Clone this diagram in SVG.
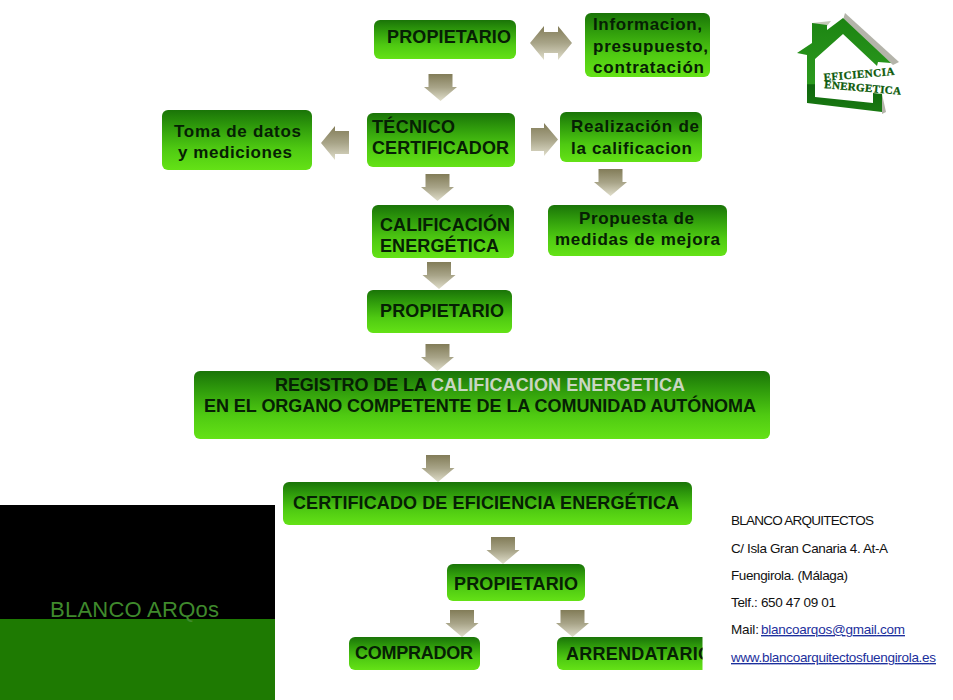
<svg xmlns="http://www.w3.org/2000/svg" width="953" height="700" viewBox="0 0 953 700">
<style>
.box{fill:url(#g)}
.arrow{fill:url(#a)}
text{font-family:"Liberation Sans",Arial,sans-serif}
.t{font-weight:bold;fill:#062004;font-size:18px}
.m{font-size:17px}
.c{font-size:13.500px;fill:#111}
.l{fill:#1c2f9c;text-decoration:underline}
.s{font-family:"Liberation Serif",serif;font-weight:bold;font-size:11px;fill:#0b5a0a;stroke:#0b5a0a;stroke-width:.3px}
</style>
<defs>
<linearGradient id="g" x1="0" y1="0" x2="0" y2="1"><stop offset="0" stop-color="#1a7408"/><stop offset=".3" stop-color="#319e0c"/><stop offset=".65" stop-color="#4fca12"/><stop offset="1" stop-color="#64e216"/></linearGradient>
<linearGradient id="a" x1="0" y1="0" x2="0" y2="1"><stop offset="0" stop-color="#827c58"/><stop offset=".5" stop-color="#a8a488"/><stop offset="1" stop-color="#e0decb"/></linearGradient>
<linearGradient id="h" x1="0" y1="0" x2="0" y2="1"><stop offset="0" stop-color="#1c8412"/><stop offset=".7" stop-color="#2c9a1e"/><stop offset=".71" stop-color="#0e660c"/><stop offset="1" stop-color="#1a7a12"/></linearGradient>
<path id="d" d="M-12 0H12V13H16.500L0 27L-16.500 13H-12Z"/>
<clipPath id="cl"><rect x="557" y="630" width="145.500" height="45"/></clipPath>
</defs>
<rect width="953" height="700" fill="#fff"/>
<g id="connectors">
<use href="#d" class="arrow" x="440.500" y="74"/>
<use href="#d" class="arrow" x="437.500" y="174"/>
<use href="#d" class="arrow" x="610.500" y="169"/>
<use href="#d" class="arrow" x="439" y="262"/>
<use href="#d" class="arrow" x="437.500" y="344"/>
<use href="#d" class="arrow" x="438" y="455"/>
<use href="#d" class="arrow" x="503" y="537"/>
<use href="#d" class="arrow" x="462" y="610"/>
<use href="#d" class="arrow" x="572.500" y="610"/>
<path class="arrow" d="M530 43L544 26V32H558V26L572 43L558 60V53H544V60Z"/>
<path class="arrow" d="M531 128H544V123L558 139.500L544 156V151H531Z"/>
<path class="arrow" d="M349 131H335V126L321 143L335 160V154H349Z"/>
</g>
<g id="panel">
<rect x="0" y="505" width="275" height="114" fill="#000"/>
<rect x="0" y="619" width="275" height="81" fill="#1e7a02"/>
<text x="50" y="617" font-size="22" fill="#3f8a2c" textLength="169">BLANCO ARQos</text>
</g>
<g id="logo">
<path d="M845 13L899 62L893 65L843 20Z" fill="#b4b4aa"/>
<path d="M812 23L831 21L827 26L812 26Z" fill="#c4c8b8"/>
<path d="M882 94L886 112L882 114Z" fill="#b4b4aa"/>
<path fill-rule="evenodd" fill="url(#h)" d="M843 18L891 63L878 62L877 66L843 34L815 59L815 97L873 103L873 93L882 94L882 112L807 103L807 55L797 53L812 43L812 23L827 25L827 30Z"/>
<text class="s" transform="translate(824 81) rotate(-5)" textLength="71">EFICIENCIA</text>
<text class="s" transform="translate(824 88) rotate(5)" textLength="77">ENERGETICA</text>
</g>
<g id="n1"><rect class="box" x="374" y="20" width="142" height="39" rx="6"/><text class="t" x="387" y="43" textLength="124">PROPIETARIO</text></g>
<g id="n2"><rect class="box" x="585" y="13" width="125" height="64" rx="6"/><text class="t m" x="593" y="30" textLength="109">Informacion,</text><text class="t m" x="593" y="52" textLength="115">presupuesto,</text><text class="t m" x="593" y="73" textLength="111">contratación</text></g>
<g id="n3"><rect class="box" x="367" y="113" width="148" height="54" rx="6"/><text class="t" x="372" y="133" textLength="83">TÉCNICO</text><text class="t" x="372" y="154" textLength="137">CERTIFICADOR</text></g>
<g id="n4"><rect class="box" x="560" y="112" width="142" height="50" rx="6"/><text class="t m" x="571" y="132" textLength="128">Realización de</text><text class="t m" x="571" y="154" textLength="121">la calificacion</text></g>
<g id="n5"><rect class="box" x="162" y="110" width="150" height="60" rx="6"/><text class="t m" x="174" y="137" textLength="127">Toma de datos</text><text class="t m" x="178" y="158" textLength="114">y mediciones</text></g>
<g id="n6"><rect class="box" x="372" y="205" width="142" height="53" rx="6"/><text class="t" x="380" y="231" textLength="130">CALIFICACIÓN</text><text class="t" x="380" y="252" textLength="119">ENERGÉTICA</text></g>
<g id="n7"><rect class="box" x="548" y="205" width="179" height="51" rx="6"/><text class="t m" x="579" y="224" textLength="115">Propuesta de</text><text class="t m" x="555" y="245" textLength="165">medidas de mejora</text></g>
<g id="n8"><rect class="box" x="367" y="290" width="145" height="43" rx="6"/><text class="t" x="380" y="317" textLength="124">PROPIETARIO</text></g>
<g id="n9"><rect class="box" x="194" y="371" width="576" height="68" rx="6"/><text class="t" x="275" y="391" textLength="152">REGISTRO DE LA</text><text class="t" x="431" y="391" style="fill:#c9d6c2" textLength="254">CALIFICACION ENERGETICA</text><text class="t" x="204" y="412" textLength="552">EN EL ORGANO COMPETENTE DE LA COMUNIDAD AUTÓNOMA</text></g>
<g id="n10"><rect class="box" x="283" y="482" width="409" height="43" rx="6"/><text class="t" x="293" y="509" textLength="386">CERTIFICADO DE EFICIENCIA ENERGÉTICA</text></g>
<g id="n11"><rect class="box" x="447" y="564" width="138" height="37" rx="6"/><text class="t" x="454" y="590" textLength="124">PROPIETARIO</text></g>
<g id="n12"><rect class="box" x="349" y="637" width="131" height="33" rx="6"/><text class="t" x="355" y="659" textLength="118">COMPRADOR</text></g>
<g id="n13" clip-path="url(#cl)"><rect class="box" x="557" y="637" width="170" height="33" rx="6"/><text class="t" x="566" y="660" textLength="146">ARRENDATARIO</text></g>
<g id="contact">
<text class="c" x="731" y="525" textLength="143">BLANCO ARQUITECTOS</text>
<text class="c" x="731" y="553" textLength="157">C/ Isla Gran Canaria 4. At-A</text>
<text class="c" x="731" y="580" textLength="117">Fuengirola. (Málaga)</text>
<text class="c" x="731" y="607" textLength="105">Telf.: 650 47 09 01</text>
<text class="c" x="731" y="634" textLength="28">Mail:</text>
<text class="c l" x="761" y="634" textLength="144">blancoarqos@gmail.com</text>
<text class="c l" x="731" y="662" textLength="205">www.blancoarquitectosfuengirola.es</text>
</g>
</svg>
